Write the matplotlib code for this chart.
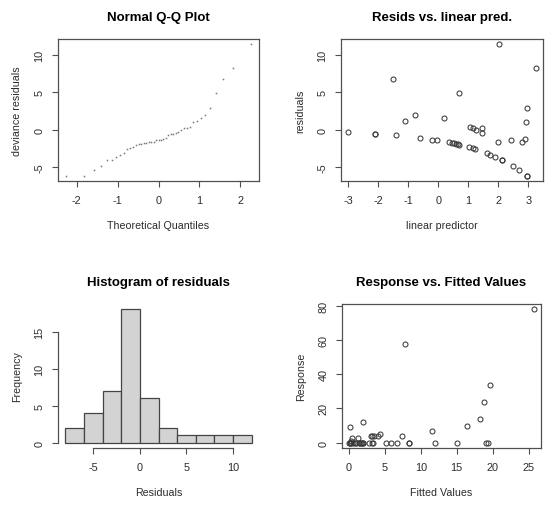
import matplotlib
matplotlib.use("Agg")
import matplotlib.pyplot as plt
import numpy as np
from statistics import NormalDist

plt.rcParams['font.family'] = ['Liberation Sans', 'DejaVu Sans']
plt.rcParams['axes.unicode_minus'] = False

lin_pred = [-3.00, -2.13, -2.13, -1.51, -1.40, -1.10, -0.78, -0.62, -0.23, -0.06,
            0.19, 0.37, 0.45, 0.53, 0.59, 0.64, 0.70, 0.69, 1.03, 1.14,
            1.22, 1.07, 1.15, 1.25, 1.45, 1.44, 1.63, 1.73, 1.90, 1.99,
            2.03, 2.12, 2.12, 2.43, 2.49, 2.70, 2.79, 2.90, 2.92, 2.96,
            2.95, 2.95, 3.24]
residuals = [-0.26, -0.48, -0.48, 6.80, -0.70, 1.15, 2.03, -1.06, -1.28, -1.37,
             1.63, -1.63, -1.76, -1.80, -1.85, -1.94, -2.07, 4.90, -2.33, -2.47,
             -2.60, 0.44, 0.26, -0.04, 0.26, -0.40, -3.08, -3.30, -3.66, -1.59,
             11.40, -4.05, -4.05, -1.28, -4.85, -5.40, -1.67, -1.15, 1.06, 2.95,
             -6.10, -6.10, 8.30]
fitted = [0.05, 0.12, 0.12, 0.18, 0.25, 0.33, 0.46, 0.54, 0.80, 0.94,
          1.24, 1.45, 1.57, 1.70, 1.80, 1.90, 2.01, 1.93, 2.80, 3.13,
          3.39, 3.03, 3.16, 3.53, 4.36, 4.08, 5.14, 5.83, 6.74, 7.34,
          7.75, 8.40, 8.40, 11.56, 12.00, 15.10, 16.40, 18.25, 18.85, 19.60,
          19.10, 19.40, 25.70]
response = [0, 0, 0, 9, 0, 1, 3, 0, 0, 0,
            3, 0, 0, 0, 0, 0, 0, 12, 0, 0,
            0, 4, 4, 4, 5, 4, 0, 0, 0, 4,
            58, 0, 0, 7, 0, 0, 10, 14, 24, 34,
            0, 0, 78]
hist_breaks = [-8, -6, -4, -2, 0, 2, 4, 6, 8, 10, 12]

W, H = 550, 506
fig = plt.figure(figsize=(W / 100, H / 100), dpi=100)
fig.patch.set_facecolor('white')

txt = '#2b2b2b'
frame = '#505050'


def box(l, t, r, b):
    return fig.add_axes([l / W, 1 - b / H, (r - l) / W, (b - t) / H])


def r_style(ax, title, xlab, ylab):
    ax.set_title(title, fontsize=9.5, fontweight='bold', pad=14, color='black')
    ax.set_xlabel(xlab, fontsize=7.7, color=txt, labelpad=11)
    ax.set_ylabel(ylab, fontsize=7.7, color=txt, labelpad=9)
    ax.tick_params(direction='out', length=4.3, width=0.8, colors=frame,
                   labelcolor=txt, labelsize=7.8, pad=5.5)
    for lab in ax.get_yticklabels():
        lab.set_rotation(90)
        lab.set_va('center')
    for s in ax.spines.values():
        s.set_color(frame)
        s.set_linewidth(0.9)


# Normal Q-Q plot
ax1 = box(58, 40, 259, 182)
srt = np.sort(residuals)
n = len(srt)
theo = [NormalDist().inv_cdf((i + 0.5) / n) for i in range(n)]
ax1.plot(theo, srt, linestyle='none', marker='s', markersize=1.1,
         color='#777777', markeredgewidth=0)
ax1.set_xlim(-2.46, 2.46)
ax1.set_ylim(-6.8, 12.1)
ax1.set_xticks([-2, -1, 0, 1, 2])
ax1.set_yticks([-5, 0, 5, 10])
r_style(ax1, 'Normal Q-Q Plot', 'Theoretical Quantiles', 'deviance residuals')

# Resids vs linear predictor
ax2 = box(341, 40, 543, 182)
ax2.plot(lin_pred, residuals, linestyle='none', marker='o', markersize=3.6,
         markerfacecolor='none', markeredgecolor='#3a3a3a', markeredgewidth=0.75)
ax2.set_xlim(-3.25, 3.49)
ax2.set_ylim(-6.8, 12.1)
ax2.set_xticks([-3, -2, -1, 0, 1, 2, 3])
ax2.set_yticks([-5, 0, 5, 10])
r_style(ax2, 'Resids vs. linear pred.', 'linear predictor', 'residuals')

# Histogram of residuals
ax3 = box(58, 305, 259, 449)
ax3.hist(residuals, bins=hist_breaks, color='#D3D3D3', edgecolor='#444444',
         linewidth=0.9)
ax3.set_xlim(-8.8, 12.8)
ax3.set_ylim(-0.72, 18.72)
ax3.set_xticks([-5, 0, 5, 10])
ax3.set_yticks([0, 5, 10, 15])
r_style(ax3, 'Histogram of residuals', 'Residuals', 'Frequency')
ax3.spines['top'].set_visible(False)
ax3.spines['right'].set_visible(False)
ax3.spines['left'].set_bounds(0, 15)
ax3.spines['bottom'].set_bounds(-5, 10)

# Response vs fitted
ax4 = box(342, 305, 541, 449)
ax4.plot(fitted, response, linestyle='none', marker='o', markersize=3.6,
         markerfacecolor='none', markeredgecolor='#3a3a3a', markeredgewidth=0.75)
ax4.set_xlim(-0.98, 26.73)
ax4.set_ylim(-3.12, 81.12)
ax4.set_xticks([0, 5, 10, 15, 20, 25])
ax4.set_yticks([0, 20, 40, 60, 80])
r_style(ax4, 'Response vs. Fitted Values', 'Fitted Values', 'Response')

fig.savefig('out.png', dpi=100, facecolor='white')
